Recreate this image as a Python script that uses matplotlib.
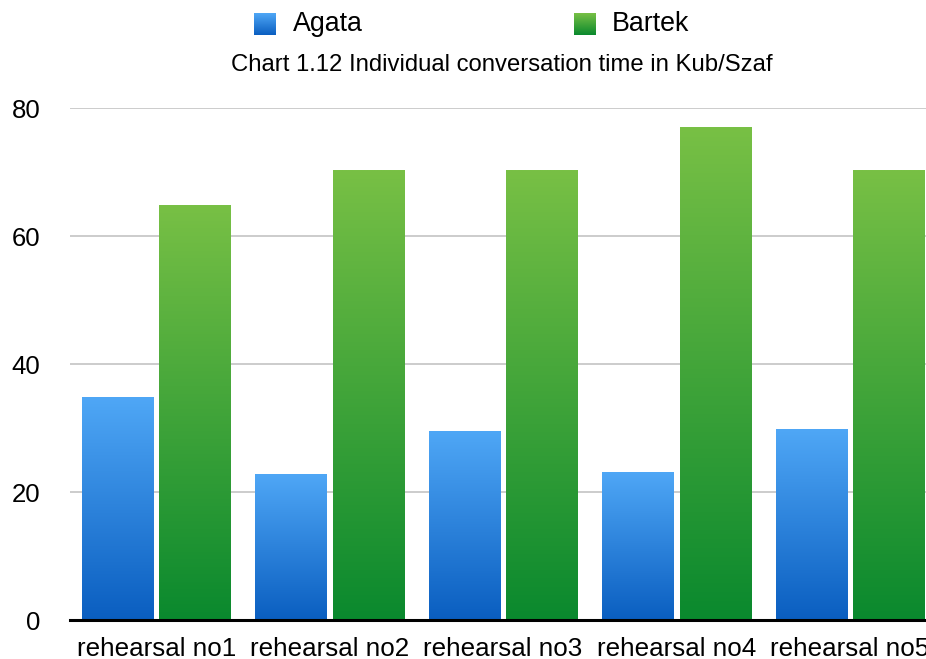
import numpy as np
import matplotlib
matplotlib.use("Agg")
import matplotlib.pyplot as plt
from matplotlib.colors import LinearSegmentedColormap

plt.rcParams['font.family'] = ['Liberation Sans', 'DejaVu Sans']

categories = ['rehearsal no1', 'rehearsal no2', 'rehearsal no3',
              'rehearsal no4', 'rehearsal no5']
agata = [34.8, 22.7, 29.4, 23.1, 29.8]
bartek = [64.8, 70.3, 70.3, 76.9, 70.3]
series_names = ['Agata', 'Bartek']
title = 'Chart 1.12 Individual conversation time in Kub/Szaf'
yticks = [0, 20, 40, 60, 80]

# gradients (bottom -> top)
blue_cmap = LinearSegmentedColormap.from_list('blue', ['#0A5EC0', '#4FA7F6'])
green_cmap = LinearSegmentedColormap.from_list('green', ['#0A892E', '#78C045'])
grad = np.linspace(0, 1, 256).reshape(-1, 1)

fig = plt.figure(figsize=(9.26, 6.59), dpi=100)
# axes spans past the right edge (last label is cut in the original)
ax = fig.add_axes([69.5 / 926, 1 - 620 / 659, 867 / 926, 512 / 659])

width = 0.41
offset = 0.223
x = np.arange(len(categories))

for i in range(len(categories)):
    for val, off, cmap in [(agata[i], -offset, blue_cmap),
                           (bartek[i], offset, green_cmap)]:
        x0 = x[i] + off - width / 2
        ax.imshow(grad, cmap=cmap, origin='lower', aspect='auto',
                  extent=[x0, x0 + width, 0, val], zorder=3,
                  interpolation='bilinear')

ax.set_xlim(-0.5, len(categories) - 0.5)
ax.set_ylim(0, 80)
ax.set_yticks(yticks)
ax.set_xticks(x)
ax.set_xticklabels(categories, fontsize=18.7)
ax.tick_params(axis='y', length=0, pad=21, labelsize=18.5)
ax.tick_params(axis='x', length=0, pad=12)
for lbl in ax.get_yticklabels():
    lbl.set_horizontalalignment('right')

ax.grid(axis='y', color='#C8C8C8', linewidth=1.3, zorder=0)
ax.set_axisbelow(True)
for side in ['top', 'right', 'left']:
    ax.spines[side].set_visible(False)
ax.spines['bottom'].set_color('black')
ax.spines['bottom'].set_linewidth(2.2)
ax.spines['bottom'].set_zorder(5)

# legend with gradient squares
for name, cmap, sx, tx in [('Agata', blue_cmap, 254, 293),
                           ('Bartek', green_cmap, 574, 612)]:
    lax = fig.add_axes([sx / 926, 1 - 35 / 659, 22 / 926, 22 / 659])
    lax.imshow(grad, cmap=cmap, origin='lower', aspect='auto',
               extent=[0, 1, 0, 1])
    lax.axis('off')
    fig.text(tx / 926, 1 - 24 / 659, name, fontsize=19.3,
             ha='left', va='center')

fig.text(502 / 926, 1 - 65 / 659, title, fontsize=17.2,
         ha='center', va='center')

fig.savefig('out.png', dpi=100)
